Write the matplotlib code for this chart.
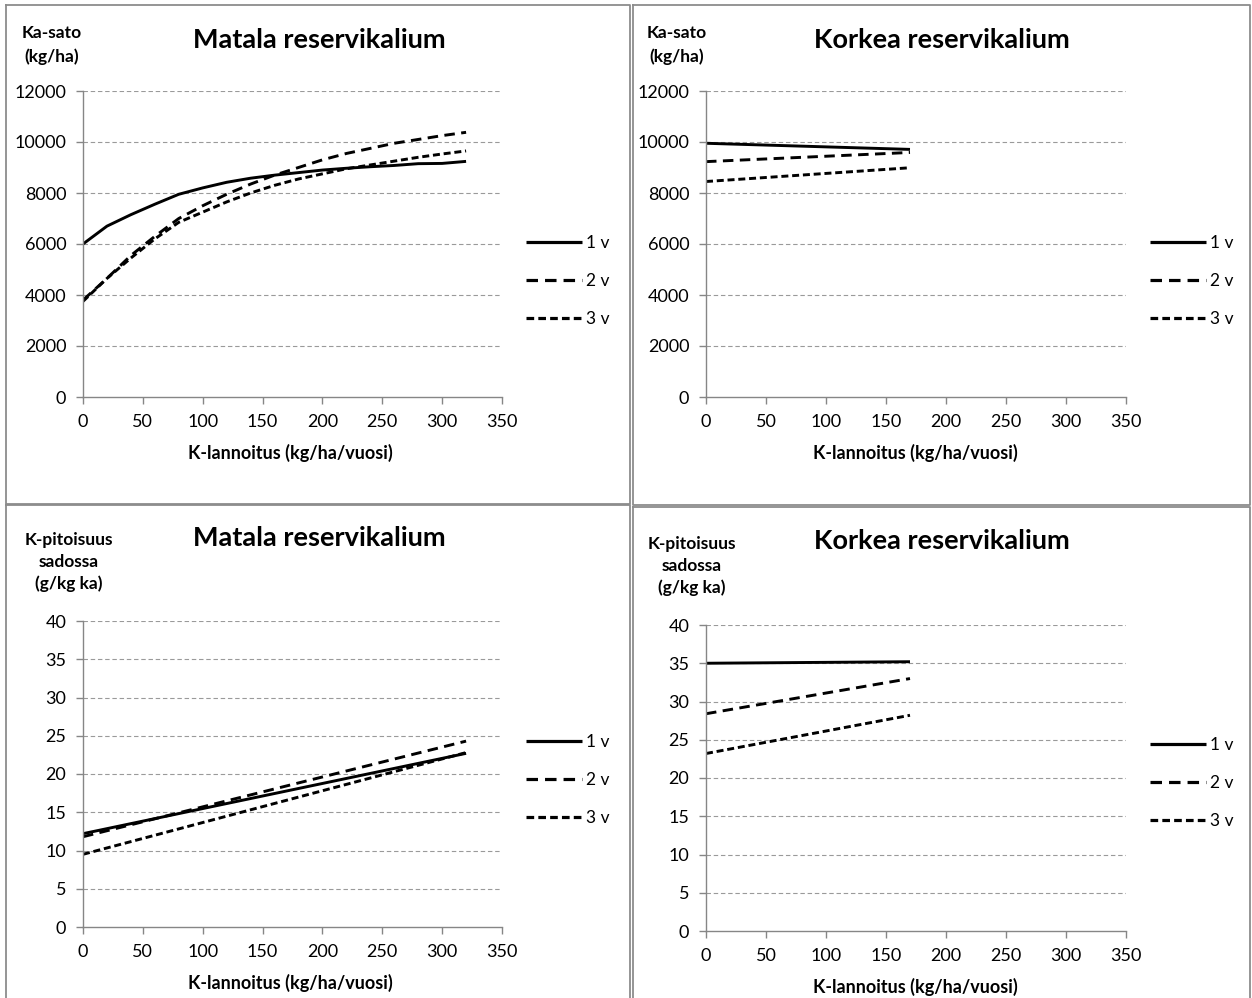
import numpy as np
import matplotlib
matplotlib.use('Agg')
import matplotlib.pyplot as plt
from matplotlib.lines import Line2D

plt.rcParams['font.family'] = ['Lato', 'DejaVu Sans']

# Datos: K-lannoitus (kg/ha/vuosi)
k_matala = [0, 20, 40, 60, 80, 100, 120, 140, 160, 180, 200, 220, 240, 260, 280, 300, 320]
k_korkea = [0, 170]

# Ka-sato (kg/ha), matala reservikalium
sato_matala_1v = [6000, 6700, 7150, 7560, 7950, 8200, 8420, 8580, 8700, 8800, 8900, 8970, 9030, 9080, 9150, 9160, 9240]
sato_matala_2v = [3800, 4650, 5550, 6300, 7000, 7500, 7950, 8350, 8700, 9000, 9300, 9550, 9750, 9950, 10100, 10250, 10380]
sato_matala_3v = [3750, 4650, 5450, 6200, 6850, 7250, 7650, 8000, 8300, 8550, 8750, 8950, 9100, 9250, 9400, 9530, 9650]

# Ka-sato (kg/ha), korkea reservikalium
sato_korkea_1v = [9950, 9710]
sato_korkea_2v = [9230, 9590]
sato_korkea_3v = [8450, 8990]

# K-pitoisuus sadossa (g/kg ka)
k_matala_pit = [0, 320]
pit_matala_1v = [12.2, 22.7]
pit_matala_2v = [11.8, 24.3]
pit_matala_3v = [9.5, 22.8]
pit_korkea_1v = [35.0, 35.2]
pit_korkea_2v = [28.4, 33.0]
pit_korkea_3v = [23.2, 28.2]

sarjat = ['1 v', '2 v', '3 v']
tyylit = ['-', (0, (3.6, 2.2)), (0, (2.4, 1.3))]

W, H = 1252, 998
fig = plt.figure(figsize=(W / 100, H / 100), dpi=100)

grey = '#868686'


def px(x, y):
    return x / W, 1 - y / H


def paneeli(rect, x, ys, ymax, ystep, leg_y):
    ax = fig.add_axes(rect)
    for yv, ls, lab in zip(ys, tyylit, sarjat):
        ax.plot(x, yv, color='black', lw=2.1, linestyle=ls, label=lab,
                solid_capstyle='butt', dash_capstyle='butt')
    ax.set_xlim(0, 350)
    ax.set_ylim(0, ymax)
    ax.set_xticks(np.arange(0, 351, 50))
    ax.set_yticks(np.arange(0, ymax + 1, ystep))
    for yv in np.arange(ystep, ymax + 1, ystep):
        ax.axhline(yv, color='#9a9a9a', lw=0.8, linestyle=(0, (4, 2.5)), zorder=0)
    for s in ['top', 'right']:
        ax.spines[s].set_visible(False)
    for s in ['left', 'bottom']:
        ax.spines[s].set_color(grey)
        ax.spines[s].set_linewidth(1.0)
    ax.tick_params(direction='out', length=5, width=1.0, color=grey,
                   labelsize=13, pad=7)
    ax.patch.set_alpha(0)
    leg = ax.legend(loc='center left', bbox_to_anchor=(1.02, leg_y),
                    frameon=False, handlelength=3.2, handletextpad=0.25,
                    labelspacing=1.25, fontsize=12.5)
    for l in leg.get_lines():
        l.set_linewidth(2.3)
    return ax


y_top = 1 - 397 / H
h_top = 306 / H
paneeli([83 / W, y_top, 419 / W, h_top], k_matala,
        [sato_matala_1v, sato_matala_2v, sato_matala_3v], 12000, 2000, 0.379)
paneeli([706 / W, y_top, 420 / W, h_top], k_korkea,
        [sato_korkea_1v, sato_korkea_2v, sato_korkea_3v], 12000, 2000, 0.379)
paneeli([83 / W, 1 - 927 / H, 419 / W, 306 / H], k_matala_pit,
        [pit_matala_1v, pit_matala_2v, pit_matala_3v], 40, 5, 0.48)
paneeli([706 / W, 1 - 931 / H, 420 / W, 306 / H], k_korkea,
        [pit_korkea_1v, pit_korkea_2v, pit_korkea_3v], 40, 5, 0.484)

# Otsikot ja akselien nimet
for cx, cy, t in [(319, 40, 'Matala reservikalium'), (942, 40, 'Korkea reservikalium'),
                  (319, 538, 'Matala reservikalium'), (942, 541, 'Korkea reservikalium')]:
    fig.text(*px(cx, cy), t, ha='center', va='center', fontsize=19.5, fontweight='bold')

for cx, cy in [(52, 45), (677, 45)]:
    fig.text(*px(cx, cy), 'Ka-sato\n(kg/ha)', ha='center', va='center',
             fontsize=12.5, fontweight='bold', linespacing=1.5)
for cx, cy in [(69, 562), (692, 566)]:
    fig.text(*px(cx, cy), 'K-pitoisuus\nsadossa\n(g/kg ka)', ha='center', va='center',
             fontsize=12.5, fontweight='bold', linespacing=1.45)
for cx, cy in [(290, 453), (915, 453), (290, 983), (915, 987)]:
    fig.text(*px(cx, cy), 'K-lannoitus (kg/ha/vuosi)', ha='center', va='center',
             fontsize=13, fontweight='bold')

# Paneelien reunat
reunat = [(6, 5, 630, 504), (633, 5, 1250, 505), (6, 505, 630, 1000), (633, 507, 1250, 1000)]
for x0, y0, x1, y1 in reunat:
    xs = [x0, x1, x1, x0, x0]
    ys = [y0, y0, y1, y1, y0]
    fig.add_artist(Line2D([x / W for x in xs], [1 - y / H for y in ys],
                          color='#8c8c8c', lw=1.3))

fig.savefig('out.png', dpi=100)
